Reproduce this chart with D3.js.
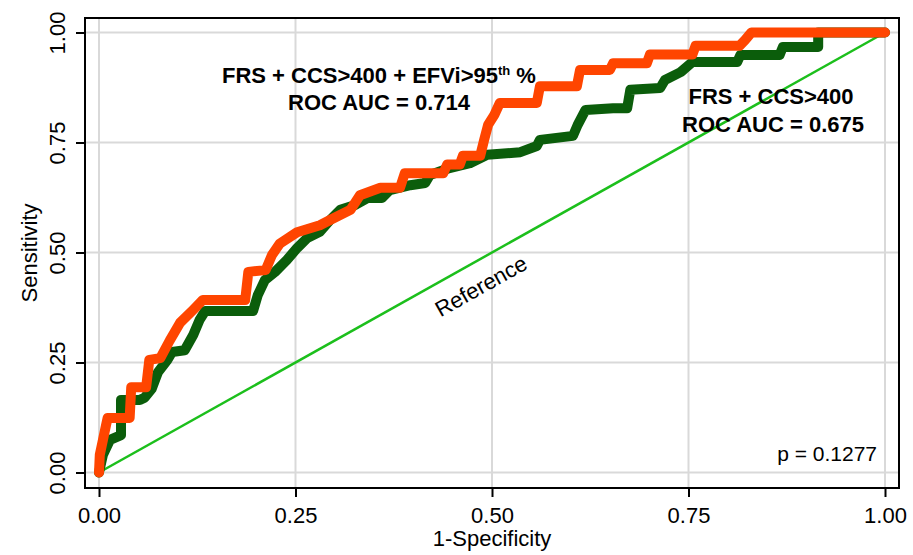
<!DOCTYPE html>
<html>
<head>
<meta charset="utf-8">
<script src="https://cdn.jsdelivr.net/npm/d3@7"></script>
<style>
  body { margin: 0; background: #ffffff; }
  svg text { font-family: Arial, "Liberation Sans", sans-serif; fill: #000; }
</style>
</head>
<body>
<div id="chart-area"></div>
<script>
// ROC points: 1-specificity / sensitivity
const fprFull = [0, 0.001, 0.005, 0.009, 0.011, 0.039, 0.041, 0.06, 0.064, 0.078, 0.09, 0.103, 0.12, 0.132,
  0.186, 0.19, 0.212, 0.22, 0.23, 0.252, 0.281, 0.294, 0.32, 0.332, 0.358, 0.383, 0.389, 0.438, 0.443,
  0.459, 0.463, 0.485, 0.49, 0.495, 0.503, 0.51, 0.557, 0.561, 0.608, 0.612, 0.65, 0.654, 0.697, 0.701,
  0.755, 0.759, 0.815, 0.822, 0.83, 1];
const sensFull = [0, 0.04, 0.074, 0.108, 0.124, 0.124, 0.194, 0.194, 0.256, 0.26, 0.3, 0.34, 0.37, 0.392,
  0.392, 0.456, 0.46, 0.494, 0.52, 0.546, 0.562, 0.574, 0.597, 0.63, 0.647, 0.647, 0.68, 0.68, 0.7,
  0.7, 0.72, 0.72, 0.756, 0.79, 0.813, 0.84, 0.84, 0.878, 0.878, 0.915, 0.915, 0.93, 0.93, 0.95,
  0.95, 0.97, 0.97, 0.983, 1, 1];

const fprBase = [0, 0.005, 0.014, 0.028, 0.028, 0.052, 0.058, 0.067, 0.075, 0.087, 0.093, 0.109, 0.12, 0.128,
  0.135, 0.196, 0.202, 0.211, 0.224, 0.239, 0.252, 0.265, 0.281, 0.294, 0.307, 0.326, 0.342, 0.36, 0.37,
  0.396, 0.415, 0.421, 0.446, 0.472, 0.494, 0.536, 0.557, 0.561, 0.603, 0.609, 0.619, 0.654, 0.672, 0.676,
  0.714, 0.72, 0.74, 0.755, 0.812, 0.816, 0.866, 0.87, 0.915, 0.915, 1];
const sensBase = [0, 0.04, 0.074, 0.085, 0.165, 0.165, 0.17, 0.19, 0.228, 0.256, 0.274, 0.278, 0.313, 0.347,
  0.367, 0.367, 0.403, 0.437, 0.456, 0.483, 0.51, 0.533, 0.547, 0.574, 0.597, 0.608, 0.624, 0.624, 0.642,
  0.653, 0.658, 0.676, 0.692, 0.703, 0.722, 0.728, 0.742, 0.756, 0.765, 0.79, 0.824, 0.828, 0.828, 0.87,
  0.874, 0.892, 0.91, 0.933, 0.933, 0.949, 0.949, 0.967, 0.967, 1, 1];

const ticks = [0, 0.25, 0.5, 0.75, 1];
const tickLabels = ["0.00", "0.25", "0.50", "0.75", "1.00"];

const drawRoc = () => {
  const size = { width: 913, height: 555 };
  const box = { left: 85, right: 899, top: 18, bottom: 488 };

  const svg = d3.select("#chart-area").append("svg")
    .attr("width", size.width)
    .attr("height", size.height);

  const x = d3.scaleLinear().domain([0, 1]).range([99, 885]);
  const y = d3.scaleLinear().domain([0, 1]).range([472.5, 32.5]);

  svg.append("rect")
    .attr("x", box.left).attr("y", box.top)
    .attr("width", box.right - box.left).attr("height", box.bottom - box.top)
    .attr("fill", "#fff");

  // grid
  const grid = svg.append("g").attr("stroke", "#d9d9d9").attr("stroke-width", 2);
  grid.selectAll(".gx").data(ticks).enter().append("line")
    .attr("x1", d => x(d)).attr("x2", d => x(d))
    .attr("y1", box.top).attr("y2", box.bottom);
  grid.selectAll(".gy").data(ticks).enter().append("line")
    .attr("y1", d => y(d)).attr("y2", d => y(d))
    .attr("x1", box.left).attr("x2", box.right);

  // reference diagonal
  svg.append("line")
    .attr("x1", x(0)).attr("y1", y(0))
    .attr("x2", x(1)).attr("y2", y(1))
    .attr("stroke", "#1cbf1c").attr("stroke-width", 2.5);

  const line = d3.line().x(d => x(d[0])).y(d => y(d[1]));
  const curve = (fpr, sens, color) => svg.append("path")
    .datum(fpr.map((f, i) => [f, sens[i]]))
    .attr("d", line)
    .attr("fill", "none")
    .attr("stroke", color)
    .attr("stroke-width", 10)
    .attr("stroke-linejoin", "round")
    .attr("stroke-linecap", "round");

  curve(fprBase, sensBase, "#0b5d0b");
  curve(fprFull, sensFull, "#ff4500");

  // frame
  svg.append("rect")
    .attr("x", box.left).attr("y", box.top)
    .attr("width", box.right - box.left).attr("height", box.bottom - box.top)
    .attr("fill", "none").attr("stroke", "#000").attr("stroke-width", 2);

  const fmt = (d, i) => tickLabels[i];

  const xAxis = svg.append("g")
    .attr("transform", `translate(0, ${box.bottom})`)
    .call(d3.axisBottom(x).tickValues(ticks).tickFormat(fmt).tickSize(9).tickPadding(10));
  xAxis.select(".domain").remove();
  xAxis.selectAll("line").attr("stroke-width", 2);
  xAxis.selectAll("text").attr("font-size", 22).style("font-family", "Arial, 'Liberation Sans', sans-serif");

  const yAxis = svg.append("g")
    .attr("transform", `translate(${box.left}, 0)`)
    .call(d3.axisLeft(y).tickValues(ticks).tickFormat(fmt).tickSize(9));
  yAxis.select(".domain").remove();
  yAxis.selectAll("line").attr("stroke-width", 2);
  yAxis.selectAll("text")
    .attr("font-size", 22)
    .style("font-family", "Arial, 'Liberation Sans', sans-serif")
    .attr("transform", "rotate(-90)")
    .attr("x", 0).attr("y", -20).attr("dy", 0)
    .attr("text-anchor", "middle");

  svg.append("text")
    .attr("x", 492).attr("y", 546)
    .attr("text-anchor", "middle").attr("font-size", 22)
    .text("1-Specificity");

  svg.append("text")
    .attr("transform", `translate(37, ${(box.top + box.bottom) / 2}) rotate(-90)`)
    .attr("text-anchor", "middle").attr("font-size", 22)
    .text("Sensitivity");

  // annotations
  const t1 = svg.append("text")
    .attr("x", 222).attr("y", 83)
    .attr("font-size", 22).attr("font-weight", "bold");
  t1.append("tspan").text("FRS + CCS>400 + EFVi>95");
  t1.append("tspan").attr("font-size", 13).attr("dy", -8).text("th");
  t1.append("tspan").attr("dy", 8).text(" %");

  svg.append("text")
    .attr("x", 288).attr("y", 110)
    .attr("font-size", 22).attr("font-weight", "bold")
    .text("ROC AUC = 0.714");

  svg.append("text")
    .attr("x", 771).attr("y", 104).attr("text-anchor", "middle")
    .attr("font-size", 22).attr("font-weight", "bold")
    .text("FRS + CCS>400");

  svg.append("text")
    .attr("x", 773).attr("y", 132).attr("text-anchor", "middle")
    .attr("font-size", 22).attr("font-weight", "bold")
    .text("ROC AUC = 0.675");

  svg.append("text")
    .attr("x", 877).attr("y", 461).attr("text-anchor", "end")
    .attr("font-size", 21)
    .text("p = 0.1277");

  const ang = Math.atan2(y(1) - y(0), x(1) - x(0)) * 180 / Math.PI;
  svg.append("text")
    .attr("transform", `translate(481, 286) rotate(${ang})`)
    .attr("text-anchor", "middle").attr("dy", "0.35em")
    .attr("font-size", 22)
    .text("Reference");
};

window.onload = drawRoc;
</script>
</body>
</html>
